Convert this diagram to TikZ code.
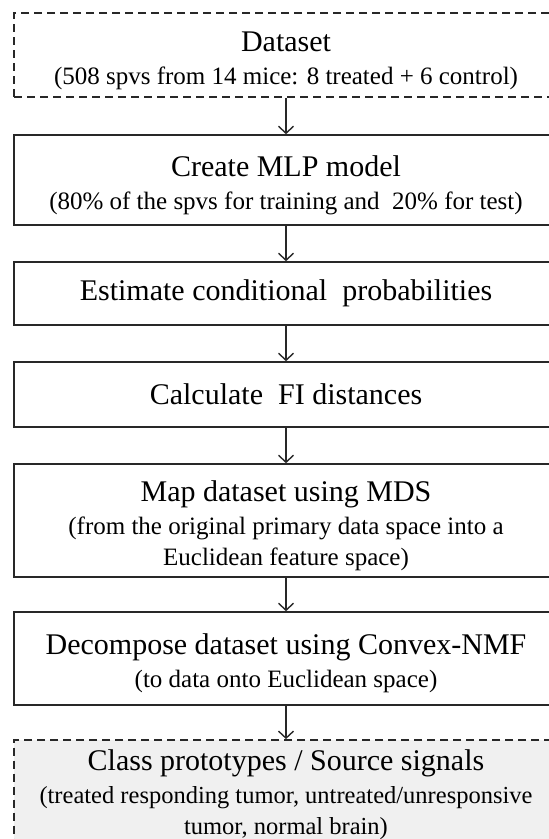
\documentclass[tikz,border=0pt]{standalone}
\usepackage{fontspec}
\setmainfont{Liberation Serif}
\usetikzlibrary{arrows.meta, positioning}
\definecolor{inkgray}{RGB}{40,40,40}
\definecolor{outfill}{RGB}{240,240,240}
\newcommand{\steptitle}{\fontsize{30}{31}\selectfont}
\newcommand{\stepnote}{\fontsize{25}{31}\selectfont}
\newcommand{\topgap}{\rule{0pt}{31pt}}
\tikzset{
  stagebox/.style={draw=inkgray, line width=1.6pt, rectangle, minimum width=544pt, align=center, inner sep=0pt, text=black, font=\steptitle},
  dashbox/.style={stagebox, dash pattern=on 8pt off 5pt},
  flowarrow/.style={draw=inkgray, line width=1.4pt, -{Straight Barb[length=7pt, width=15pt, line width=1.4pt]}}
}

\begin{document}
\begin{tikzpicture}[x=1pt, y=-1pt]
  \useasboundingbox (0,0) rectangle (549,839);
  \clip (0,0) rectangle (549,839);

  \node[dashbox, fill=white, minimum height=84pt] (data) at (286,55) {\topgap Dataset\\[2pt]\stepnote (508 spvs from 14 mice: 8 treated + 6 control)};
  \node[stagebox, minimum height=90pt] (mlp) at (286,180) {\topgap Create MLP model\\[2pt]\stepnote (80\% of the spvs for training and\ \ 20\% for test)};
  \node[stagebox, minimum height=63pt] (prob) at (286,293.5) {Estimate conditional\ \ probabilities};
  \node[stagebox, minimum height=65pt] (fidist) at (286,394.5) {Calculate\ \ FI distances};
  \node[stagebox, minimum height=113pt] (mds) at (286,520.5) {\topgap Map dataset using MDS\\[2pt]\stepnote (from the original primary data space into a\\\stepnote Euclidean feature space)};
  \node[stagebox, minimum height=93pt] (nmf) at (286,658.5) {\topgap Decompose dataset using Convex-NMF\\[2pt]\stepnote (to data onto Euclidean space)};
  \node[dashbox, fill=outfill, minimum height=94pt] (proto) at (286,790) {\topgap Class prototypes / Source signals\\[2pt]\fontsize{24.5}{31}\selectfont (treated responding tumor, untreated/unresponsive\\\fontsize{24.5}{31}\selectfont tumor, normal brain)};

  \draw[flowarrow] (data) -- (mlp);
  \draw[flowarrow] (mlp) -- (prob);
  \draw[flowarrow] (prob) -- (fidist);
  \draw[flowarrow] (fidist) -- (mds);
  \draw[flowarrow] (mds) -- (nmf);
  \draw[flowarrow] (nmf) -- (proto);
\end{tikzpicture}
\end{document}
